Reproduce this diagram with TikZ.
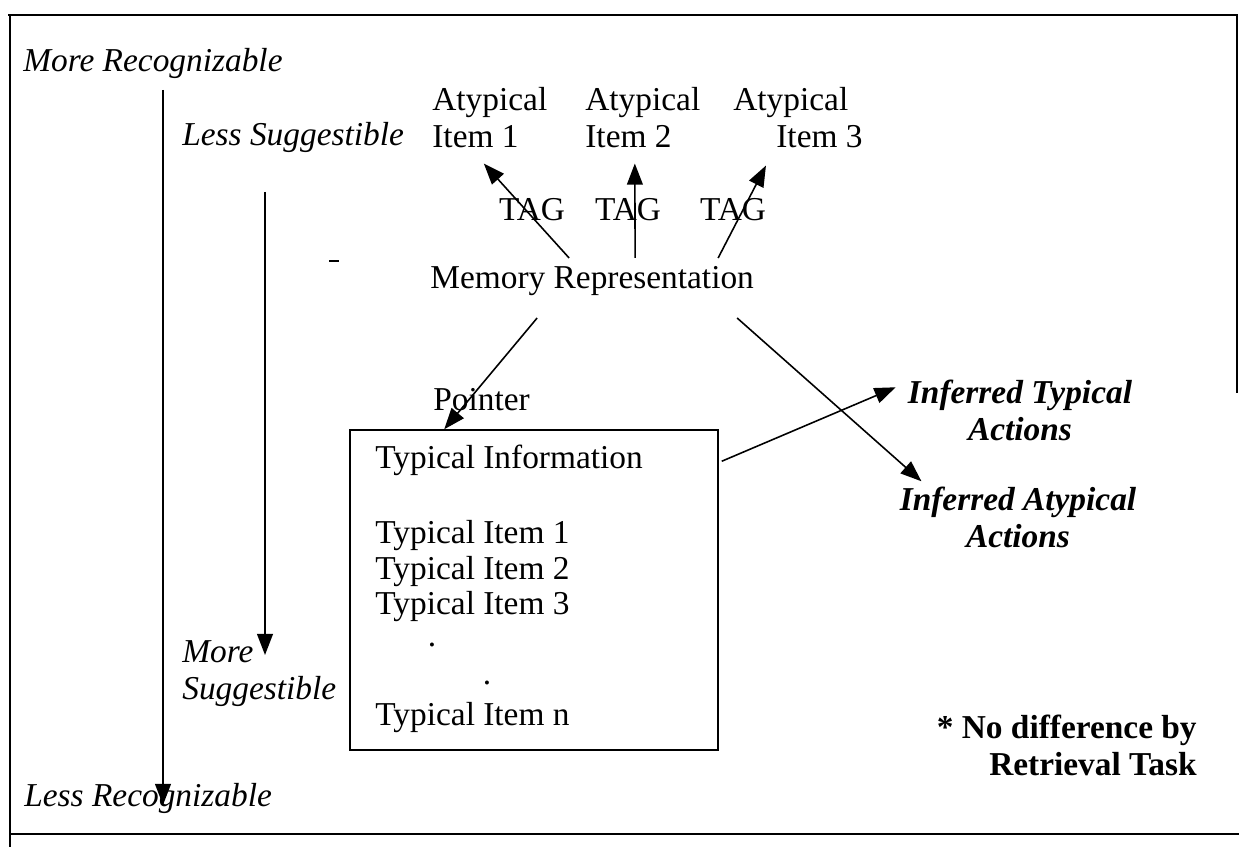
\documentclass[tikz,border=0pt]{standalone}
\usepackage{fontspec}
\setmainfont{Liberation Serif}
\usetikzlibrary{arrows.meta,calc}

\tikzset{
	txt/.style={inner sep=0pt, font=\fontsize{19}{21}\selectfont},
	slant/.style={txt, font=\fontsize{19}{21}\selectfont\itshape},
	infer/.style={txt, align=center, font=\fontsize{19}{21}\selectfont\bfseries\itshape},
	note/.style={txt, align=right, font=\fontsize{19}{21}\selectfont\bfseries},
	link/.style={line width=0.9pt, -{Triangle[length=12pt,width=9pt]}},
}

\begin{document}
\begin{tikzpicture}[x=0.02cm, y=-0.02cm]
	\useasboundingbox (0,0) rectangle (1239,847);

	% frame
	\draw[line width=1pt] (8,15) -- (1237,15) -- (1237,393);
	\draw[line width=1pt] (10,15) -- (10,847);
	\draw[line width=1pt] (10,834) -- (1239,834);

	% recognizability axis
	\node[slant, anchor=west] (moreRec) at (23,63) {More Recognizable};
	\node[slant, anchor=west] (lessRec) at (24,798) {Less Recognizable};
	\coordinate (recTop) at (163,90);
	\coordinate (recEnd) at (163,805);
	\draw[link] (recTop) -- (recEnd);

	% suggestibility axis
	\node[slant, anchor=west] (lessSug) at (182,137) {Less Suggestible};
	\node[slant, anchor=west, align=left] (moreSug) at (182,674) {More\\Suggestible};
	\coordinate (sugTop) at (265,192);
	\coordinate (sugEnd) at (265,655);
	\draw[link] (sugTop) -- (sugEnd);
	\draw[line width=1pt] (329,261) -- (339,261);

	% atypical items
	\node[txt, align=left, anchor=west] (atyp1) at (432,118) {Atypical\\Item 1};
	\node[txt, align=left, anchor=west] (atyp2) at (585,118) {Atypical\\Item 2};
	\node[txt, align=left, anchor=west] (atyp3) at (733,118) {Atypical\\\hspace*{0.86cm}Item 3};

	% tags
	\node[txt] (tag1) at (532,210) {TAG};
	\node[txt] (tag2) at (628,210) {TAG};
	\node[txt] (tag3) at (733,210) {TAG};

	% memory representation
	\node[txt, anchor=west] (mem) at (430,281) {Memory Representation};
	\draw[link] ($(mem.north)+(-23,-8)$) -- ($(atyp1.south)+(-6,15)$);
	\draw[link] ($(mem.north)+(43,-8)$) -- ($(atyp2.south)+(-8,15)$);
	\draw[link] ($(mem.north)+(126,-8)$) -- ($(atyp3.south)+(-32,17)$);

	% typical information
	\node[draw, line width=0.9pt, inner sep=0pt, minimum width=7.36cm, minimum height=6.4cm] (box) at (534,590) {};
	\node[txt, anchor=west] (pointer) at (433,400) {Pointer};
	\draw[link] ($(mem.south)+(-55,22)$) -- ($(box.north west)+(95,0)$);

	\node[txt, anchor=west] (info) at (375,460) {Typical Information};
	\node[txt, anchor=west] (item1) at (375,536) {Typical Item 1};
	\node[txt, anchor=west] (item2) at (375,572) {Typical Item 2};
	\node[txt, anchor=west] (item3) at (375,607) {Typical Item 3};
	\node[txt] (dot1) at (432,645) {.};
	\node[txt] (dot2) at (487,683) {.};
	\node[txt, anchor=west] (itemN) at (375,718) {Typical Item n};

	% inferred actions
	\node[infer] (infTyp) at (1020,410) {Inferred Typical\\Actions};
	\node[infer] (infAty) at (1018,517) {Inferred Atypical\\Actions};
	\draw[link] ($(box.north east)+(3,32)$) -- ($(infTyp.north west)+(-12,8)$);
	\draw[link] ($(mem.south)+(145,22)$) -- ($(infAty.north west)+(22,-5)$);

	% note
	\node[note, anchor=east] (noDiff) at (1197,745) {* No difference by\\Retrieval Task};
\end{tikzpicture}
\end{document}
